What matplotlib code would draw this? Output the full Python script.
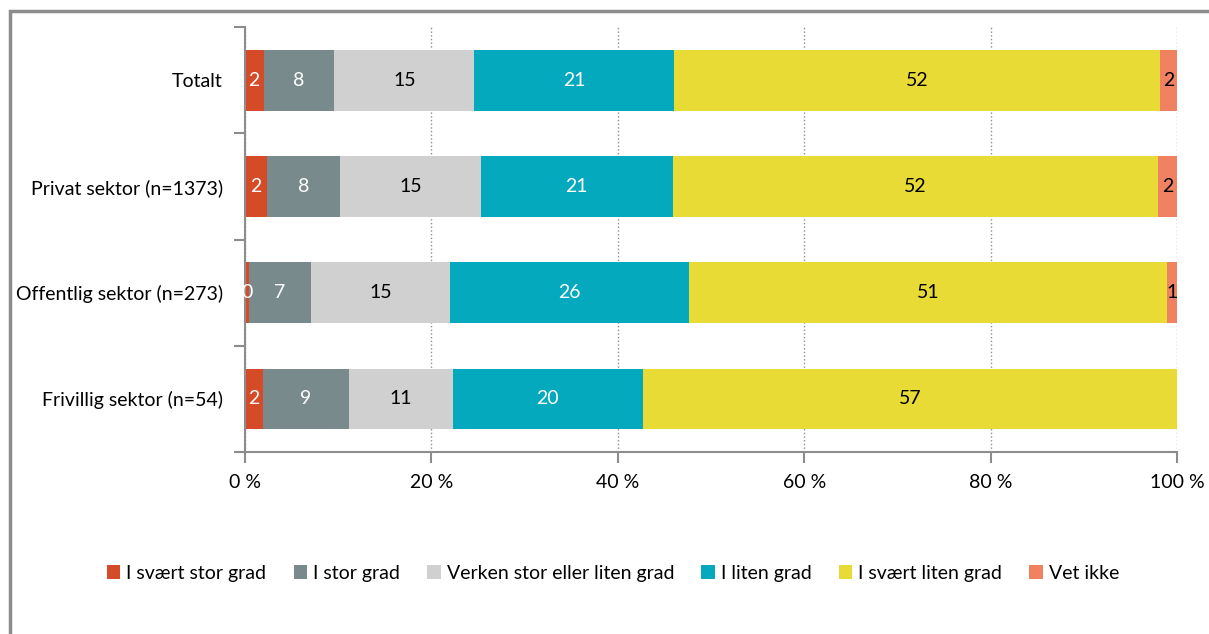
import numpy as np
import matplotlib.pyplot as plt
from matplotlib.patches import Rectangle

plt.rcParams['font.family'] = ['Lato', 'DejaVu Sans']

kategorier = ['Totalt', 'Privat sektor (n=1373)', 'Offentlig sektor (n=273)', 'Frivillig sektor (n=54)']
serier = ['I svært stor grad', 'I stor grad', 'Verken stor eller liten grad',
          'I liten grad', 'I svært liten grad', 'Vet ikke']

# andeler i prosent (lest av figuren)
svaert_stor = [2.0, 2.4, 0.4, 1.9]
stor = [7.6, 7.8, 6.7, 9.3]
verken = [15.0, 15.1, 14.9, 11.1]
liten = [21.4, 20.6, 25.6, 20.4]
svaert_liten = [52.2, 52.0, 51.3, 57.3]
vet_ikke = [1.8, 2.1, 1.1, 0.0]

verdier = [svaert_stor, stor, verken, liten, svaert_liten, vet_ikke]
farger = ['#D64B27', '#798A8C', '#D0D0D0', '#04A9BD', '#E8DB36', '#F08262']
tekstfarger = ['white', 'white', 'black', 'white', 'black', 'black']

fig = plt.figure(figsize=(12.09, 6.34), dpi=100)
ax = fig.add_axes([0.2026, 0.287, 0.771, 0.670])

# ramme rundt figuren
fig.patches.append(Rectangle((0.0085, -0.05), 1.2, 1.033, transform=fig.transFigure,
                             fill=False, edgecolor='#8C8C8C', linewidth=2.5))

y = np.arange(len(kategorier))
venstre = np.zeros(len(kategorier))
for navn, v, f, tf in zip(serier, verdier, farger, tekstfarger):
    v = np.array(v)
    ax.barh(y, v, left=venstre, height=0.57, color=f, label=navn, zorder=2)
    for i in range(len(kategorier)):
        if v[i] > 0:
            ax.text(venstre[i] + v[i] / 2, y[i], f"{round(v[i]):.0f}", ha='center', va='center',
                    color=tf, fontsize=14, zorder=3)
    venstre += v

ax.set_xlim(0, 100)
ax.set_ylim(3.5, -0.5)
ax.set_xticks(np.arange(0, 101, 20))
ax.set_xticklabels([f"{t} %" for t in range(0, 101, 20)], fontsize=14)
ax.set_yticks(y)
ax.set_yticklabels(kategorier, fontsize=14)
ax.tick_params(axis='y', length=0, pad=16)
ax.set_yticks([0.5, 1.5, 2.5, -0.5, 3.5], minor=True)
ax.tick_params(axis='y', which='minor', length=8, color='#8C8C8C', width=1.5)
ax.tick_params(axis='x', length=8, color='#8C8C8C', width=1.5, pad=8)

ax.xaxis.grid(True, linestyle=':', color='#909090', linewidth=1, zorder=0)
ax.set_axisbelow(True)
for s in ['top', 'right']:
    ax.spines[s].set_visible(False)
for s in ['left', 'bottom']:
    ax.spines[s].set_color('#8C8C8C')
    ax.spines[s].set_linewidth(1.5)

fig.legend(loc='center', bbox_to_anchor=(0.507, 0.096), ncol=6, frameon=False,
           fontsize=14, handlelength=0.7, handleheight=0.7, handletextpad=0.3,
           columnspacing=1.4)

fig.savefig('out.png', dpi=100)
